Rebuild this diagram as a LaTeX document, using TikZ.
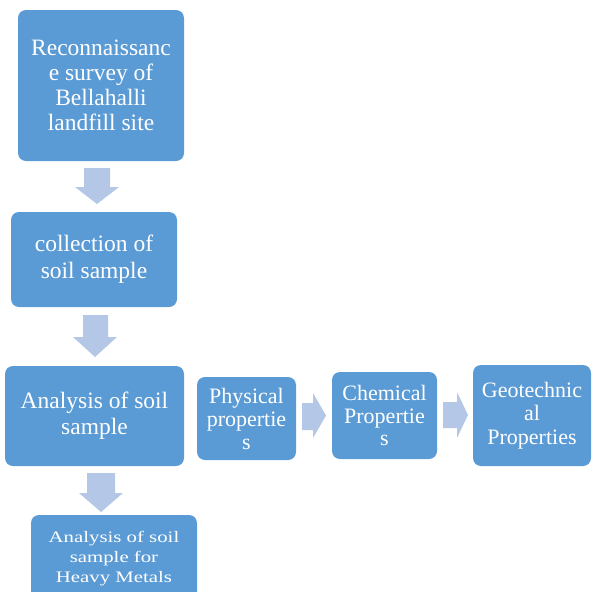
\documentclass[tikz,border=0pt]{standalone}
\usepackage{fontspec}
\setmainfont{Liberation Serif}
\definecolor{boxblue}{HTML}{5B9BD5}
\definecolor{arrowblue}{HTML}{B4C7E7}
\begin{document}
\begin{tikzpicture}[x=1pt,y=-1pt,
  box/.style={draw=none,text=white,align=center,inner sep=0pt},
  blockarrow/.style={fill=arrowblue,draw=none}]
\useasboundingbox (0,0) rectangle (592,592);
\clip (0,0) rectangle (592,592);
% boxes
\fill[boxblue,rounded corners=8pt] (18,10) rectangle (184,161);
\node[box,font=\fontsize{23.5}{25}\selectfont] (recon) at (101,85.5) {Reconnaissanc\\e survey of\\Bellahalli\\landfill site};
\fill[boxblue,rounded corners=8pt] (11,212) rectangle (177,307);
\node[box,font=\fontsize{23.5}{27}\selectfont] (coll) at (94,259.5) {collection of\\soil sample};
\fill[boxblue,rounded corners=8pt] (5,366) rectangle (184,466);
\node[box,font=\fontsize{23.5}{26}\selectfont] (anal) at (94.5,416) {Analysis of soil\\sample};
\fill[boxblue,rounded corners=8pt] (197,377) rectangle (296,460);
\node[box,font=\fontsize{22}{23}\selectfont] (phys) at (246.5,418.5) {Physical\\propertie\\s};
\fill[boxblue,rounded corners=8pt] (332,372) rectangle (437,459);
\node[box,font=\fontsize{22}{22.5}\selectfont] (chem) at (384.5,415.5) {Chemical\\Propertie\\s};
\fill[boxblue,rounded corners=8pt] (473,365) rectangle (591,466);
\node[box,font=\fontsize{22}{23.5}\selectfont] (geo) at (532,415.5) {Geotechnic\\al\\Properties};
\fill[boxblue,rounded corners=8pt] (31,515) rectangle (197,620);
\node[box] (heavy) at (114,558) {\scalebox{1.3}[1]{\fontsize{16}{20}\selectfont\begin{tabular}{@{}c@{}}Analysis of soil\\sample for\\Heavy Metals\end{tabular}}};
% block arrows
\fill[blockarrow] (84,168) -- (110,168) -- (110,187) -- (119,187) -- (97,204) -- (75,187) -- (84,187) -- cycle;
\fill[blockarrow] (83,315) -- (108,315) -- (108,337) -- (117,337) -- (95,357) -- (73,337) -- (83,337) -- cycle;
\fill[blockarrow] (87,473) -- (115,473) -- (115,493) -- (123,493) -- (101,512) -- (79,493) -- (87,493) -- cycle;
\fill[blockarrow] (302,403) -- (313,403) -- (313,393) -- (326,415.5) -- (313,438) -- (313,430) -- (302,430) -- cycle;
\fill[blockarrow] (443,402) -- (457,402) -- (457,392) -- (468,415) -- (457,438) -- (457,428) -- (443,428) -- cycle;
\end{tikzpicture}
\end{document}
